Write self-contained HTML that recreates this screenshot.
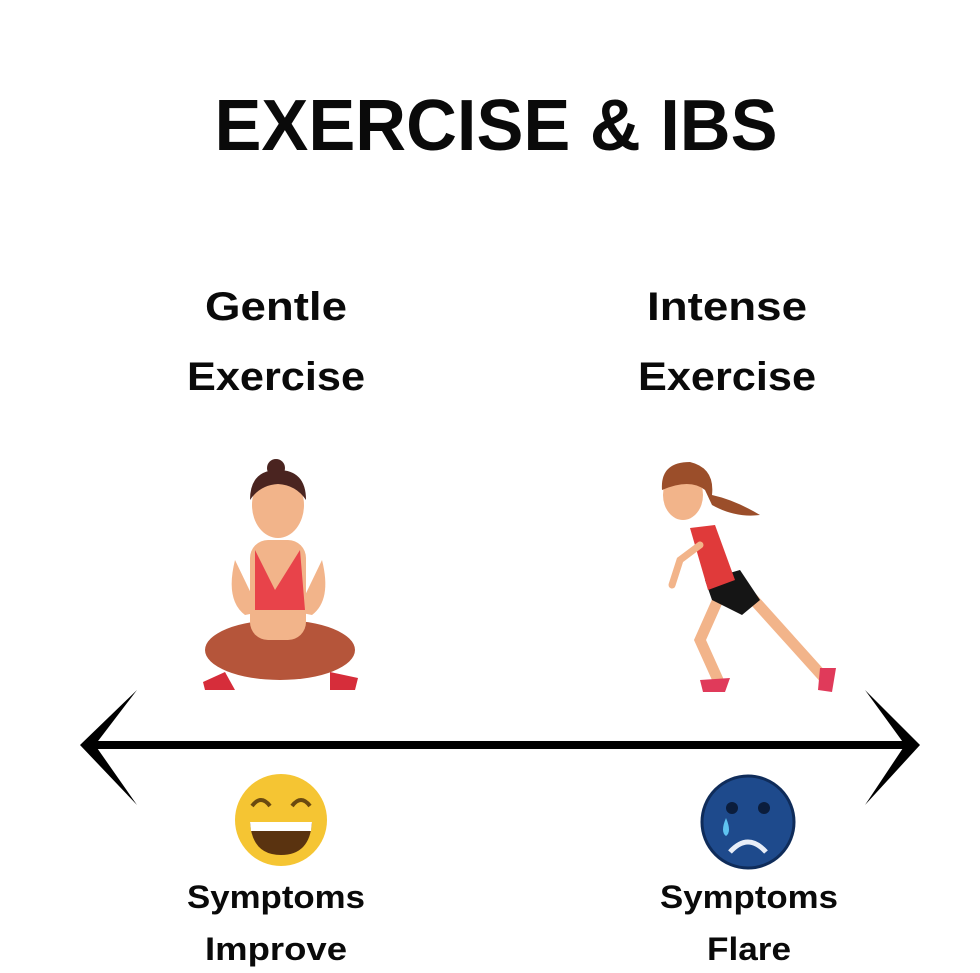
<!DOCTYPE html>
<html><head><meta charset="utf-8"><style>
html,body{margin:0;padding:0;background:#fff}
svg{display:block}
text{font-family:"Liberation Sans",sans-serif;font-weight:bold;fill:#0a0a0a}
</style></head><body>
<svg width="980" height="973" viewBox="0 0 980 973" xmlns="http://www.w3.org/2000/svg">
<rect width="980" height="973" fill="#fff"/>
<text x="496" y="150" font-size="72" text-anchor="middle" textLength="563" lengthAdjust="spacingAndGlyphs">EXERCISE &amp; IBS</text>
<text x="276" y="320" font-size="40" text-anchor="middle" textLength="142" lengthAdjust="spacingAndGlyphs">Gentle</text>
<text x="276" y="390" font-size="40" text-anchor="middle" textLength="178" lengthAdjust="spacingAndGlyphs">Exercise</text>
<text x="727" y="320" font-size="40" text-anchor="middle" textLength="160" lengthAdjust="spacingAndGlyphs">Intense</text>
<text x="727" y="390" font-size="40" text-anchor="middle" textLength="178" lengthAdjust="spacingAndGlyphs">Exercise</text>
<text x="276" y="908" font-size="32" text-anchor="middle" textLength="178" lengthAdjust="spacingAndGlyphs">Symptoms</text>
<text x="276" y="960" font-size="32" text-anchor="middle" textLength="142" lengthAdjust="spacingAndGlyphs">Improve</text>
<text x="749" y="908" font-size="32" text-anchor="middle" textLength="178" lengthAdjust="spacingAndGlyphs">Symptoms</text>
<text x="749" y="960" font-size="32" text-anchor="middle" textLength="84" lengthAdjust="spacingAndGlyphs">Flare</text>

<!-- arrow -->
<line x1="88" y1="745" x2="912" y2="745" stroke="#000" stroke-width="8"/>
<path d="M137,690 L80,745 L137,805 L95,745 Z" fill="#000"/>
<path d="M865,690 L920,745 L865,805 L905,745 Z" fill="#000"/>

<!-- yoga woman -->
<g>
<ellipse cx="280" cy="650" rx="75" ry="30" fill="#b5553a"/>
<rect x="250" y="540" width="56" height="100" rx="18" fill="#f2b48a"/>
<path d="M235,560 Q225,600 245,615 L260,612 Z" fill="#f2b48a"/>
<path d="M322,560 Q332,600 312,615 L297,612 Z" fill="#f2b48a"/>
<path d="M255,550 L275,590 L300,550 L305,610 L255,610 Z" fill="#e8434a"/>
<ellipse cx="278" cy="505" rx="26" ry="33" fill="#f2b48a"/>
<path d="M250,500 Q250,470 278,470 Q306,470 306,500 Q296,485 278,484 Q260,485 250,500 Z" fill="#4a2420"/>
<circle cx="276" cy="468" r="9" fill="#4a2420"/>
<path d="M203,682 L225,672 L235,690 L205,690 Z" fill="#d62d3a"/>
<path d="M330,672 L358,678 L355,690 L330,690 Z" fill="#d62d3a"/>
</g>

<!-- runner -->
<g>
<path d="M745,590 L790,640 L826,680" stroke="#f2b48a" stroke-width="11" fill="none" stroke-linecap="round"/>
<path d="M720,595 L700,640 L718,680" stroke="#f2b48a" stroke-width="11" fill="none" stroke-linecap="round"/>
<path d="M705,580 L740,570 L760,600 L742,615 L712,600 Z" fill="#151515"/>
<path d="M690,528 L715,525 L735,580 L708,590 Z" fill="#e03a3a"/>
<path d="M700,545 L680,560 L672,585" stroke="#f2b48a" stroke-width="7" fill="none" stroke-linecap="round"/>
<ellipse cx="683" cy="495" rx="20" ry="25" fill="#f2b48a"/>
<path d="M662,490 Q660,462 690,462 Q715,468 712,495 Q735,500 760,515 Q735,518 712,505 L705,490 Q690,478 662,490 Z" fill="#9b4e2a"/>
<path d="M700,680 L730,678 L725,692 L703,692 Z" fill="#e03a5a"/>
<path d="M820,668 L836,668 L832,692 L818,690 Z" fill="#e03a5a"/>
</g>

<!-- happy emoji -->
<circle cx="281" cy="820" r="46" fill="#f5c533"/>
<path d="M252,806 Q261,794 270,806" stroke="#6b4a10" stroke-width="4" fill="none"/>
<path d="M292,806 Q301,794 310,806" stroke="#6b4a10" stroke-width="4" fill="none"/>
<path d="M250,822 L312,822 Q310,855 281,855 Q252,855 250,822 Z" fill="#5a3310"/>
<path d="M250,822 L312,822 L311,831 L251,831 Z" fill="#fff"/>

<!-- sad emoji -->
<circle cx="748" cy="822" r="46" fill="#1e4a8c"/>
<circle cx="748" cy="822" r="46" fill="none" stroke="#0f2c5a" stroke-width="3"/>
<circle cx="732" cy="808" r="6" fill="#0b1d3c"/>
<circle cx="764" cy="808" r="6" fill="#0b1d3c"/>
<path d="M730,852 Q748,832 766,852" stroke="#e8eef8" stroke-width="5" fill="none"/>
<path d="M726,818 Q720,832 726,836 Q732,832 726,818 Z" fill="#5fc3f0"/>
</svg>
</body></html>
